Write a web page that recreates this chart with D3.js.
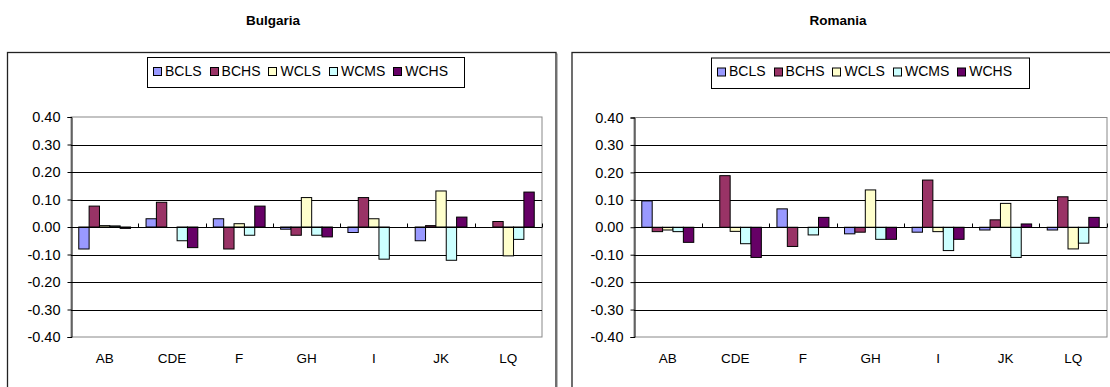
<!DOCTYPE html>
<html>
<head>
<meta charset="utf-8">
<script src="https://cdn.jsdelivr.net/npm/d3@7"></script>
<style>
  html, body { margin: 0; padding: 0; background: #fff; }
  svg { display: block; font-family: "Liberation Sans", Arial, sans-serif; }
</style>
</head>
<body>
<svg id="chart" width="1110" height="387"></svg>
<script>
// Industry groups on the category axis
const categories = ["AB", "CDE", "F", "GH", "I", "JK", "LQ"];
// Occupation / skill series
const seriesNames = ["BCLS", "BCHS", "WCLS", "WCMS", "WCHS"];
const seriesColors = ["#9999FF", "#993366", "#FFFFCC", "#CCFFFF", "#660066"];
const yTicks = [0.40, 0.30, 0.20, 0.10, 0.00, -0.10, -0.20, -0.30, -0.40];

// Bulgaria: one array per series, one value per category
const bgBCLS = [-0.080, 0.030, 0.030, -0.008, -0.020, -0.050, 0.000];
const bgBCHS = [0.076, 0.090, -0.080, -0.030, 0.107, 0.005, 0.020];
const bgWCLS = [0.005, 0.000, 0.012, 0.107, 0.030, 0.131, -0.105];
const bgWCMS = [0.004, -0.050, -0.030, -0.030, -0.117, -0.121, -0.045];
const bgWCHS = [-0.005, -0.075, 0.076, -0.036, 0.000, 0.036, 0.127];

// Romania
const roBCLS = [0.096, 0.000, 0.067, -0.024, -0.018, -0.010, -0.010];
const roBCHS = [-0.016, 0.188, -0.070, -0.018, 0.172, 0.027, 0.111];
const roWCLS = [-0.010, -0.015, 0.000, 0.136, -0.016, 0.087, -0.079];
const roWCMS = [-0.016, -0.060, -0.028, -0.044, -0.085, -0.110, -0.058];
const roWCHS = [-0.055, -0.110, 0.036, -0.044, -0.044, 0.012, 0.036];

const panels = [
  { title: "Bulgaria", series: [bgBCLS, bgBCHS, bgWCLS, bgWCMS, bgWCHS],
    box: [7.5, 52.5, 548.5, 340], plot: [71, 117, 542, 337], titleX: 273, legend: [147, 57, 317, 30] },
  { title: "Romania", series: [roBCLS, roBCHS, roWCLS, roWCMS, roWCHS],
    box: [572, 52.5, 545, 340], plot: [634, 117.5, 1107, 337], titleX: 838, legend: [711, 57.5, 318, 30.5] }
];

const svg = d3.select("#chart");

panels.forEach(p => {
  const g = svg.append("g");
  const [px0, py0, px1, py1] = p.plot;

  // Title
  g.append("text").attr("x", p.titleX).attr("y", 25)
    .attr("text-anchor", "middle").attr("font-size", 13.5).attr("font-weight", "bold")
    .text(p.title);

  // Chart frame with soft shadow
  const [bx, by, bw, bh] = p.box;
  g.append("rect").attr("x", bx + 1.5).attr("y", by + 1.5).attr("width", bw).attr("height", bh)
    .attr("fill", "none").attr("stroke", "#bbb").attr("stroke-width", 1);
  g.append("rect").attr("x", bx).attr("y", by).attr("width", bw).attr("height", bh)
    .attr("fill", "#fff").attr("stroke", "#222").attr("stroke-width", 1.3);

  const x0 = d3.scaleBand().domain(categories).range([px0, px1]).paddingInner(0).paddingOuter(0);
  const bandW = x0.bandwidth();
  const barW = bandW / 6.5;
  const x1 = d3.scaleBand().domain(seriesNames).range([0.75 * barW, 0.75 * barW + 5 * barW]);
  const y = d3.scaleLinear().domain([-0.4, 0.4]).range([py1, py0]);

  // Plot area border (gray)
  g.append("rect").attr("x", px0).attr("y", py0).attr("width", px1 - px0).attr("height", py1 - py0)
    .attr("fill", "none").attr("stroke", "#888").attr("stroke-width", 1);

  // Gridlines
  g.append("g").selectAll("line").data(yTicks.filter(t => t > -0.4 && t < 0.4 && t !== 0)).join("line")
    .attr("x1", px0).attr("x2", px1)
    .attr("y1", d => Math.round(y(d)) + 0.5).attr("y2", d => Math.round(y(d)) + 0.5)
    .attr("stroke", "#000").attr("stroke-width", 1);

  // Value axis
  const yAxis = d3.axisLeft(y).tickValues(yTicks).tickFormat(d3.format(".2f")).tickSize(4).tickPadding(7);
  const ya = g.append("g").attr("transform", `translate(${px0 + 0.5},0)`).call(yAxis);
  ya.select(".domain").attr("stroke", "#000");
  ya.selectAll(".tick line").attr("stroke", "#000");
  ya.selectAll("text").attr("font-size", 14.5).attr("fill", "#000")
    .attr("font-family", "Liberation Sans, Arial, sans-serif")
    .text(d => d3.format(".2f")(d).replace("−", "-"));

  // Bars
  seriesNames.forEach((s, si) => {
    g.append("g").selectAll("rect").data(p.series[si]).join("rect")
      .attr("x", (d, i) => x0(categories[i]) + x1(s))
      .attr("width", x1.bandwidth())
      .attr("y", d => y(Math.max(0, d)))
      .attr("height", d => Math.abs(y(d) - y(0)))
      .attr("fill", seriesColors[si])
      .attr("stroke", "#000").attr("stroke-width", 1);
  });

  // Category axis at zero with tick marks between groups
  const y0 = Math.round(y(0)) + 0.5;
  g.append("line").attr("x1", px0).attr("x2", px1).attr("y1", y0).attr("y2", y0)
    .attr("stroke", "#000").attr("stroke-width", 1);
  g.append("g").selectAll("line").data(categories.slice(1).concat(["_end"])).join("line")
    .attr("x1", (d, i) => Math.round(px0 + (i + 1) * bandW) + 0.5)
    .attr("x2", (d, i) => Math.round(px0 + (i + 1) * bandW) + 0.5)
    .attr("y1", y0 - 4).attr("y2", y0)
    .attr("stroke", "#000");

  // Category labels along the bottom
  g.append("g").selectAll("text").data(categories).join("text")
    .attr("x", d => x0(d) + bandW / 2).attr("y", py1 + 26)
    .attr("text-anchor", "middle").attr("font-size", 13.5).text(d => d);

  // Legend
  const [lx, ly, lw, lh] = p.legend;
  g.append("rect").attr("x", lx + 0.5).attr("y", ly + 0.5).attr("width", lw).attr("height", lh)
    .attr("fill", "#fff").attr("stroke", "#000").attr("stroke-width", 1);
  let cx = lx + 6;
  seriesNames.forEach((s, si) => {
    g.append("rect").attr("x", Math.round(cx) + 0.5).attr("y", ly + 10.5).attr("width", 8).attr("height", 8)
      .attr("fill", seriesColors[si]).attr("stroke", "#000");
    const t = g.append("text").attr("x", cx + 12).attr("y", ly + 18.5)
      .attr("font-size", 14).text(s);
    cx += 12 + t.node().getComputedTextLength() + 8;
  });
});
</script>
</body>
</html>
